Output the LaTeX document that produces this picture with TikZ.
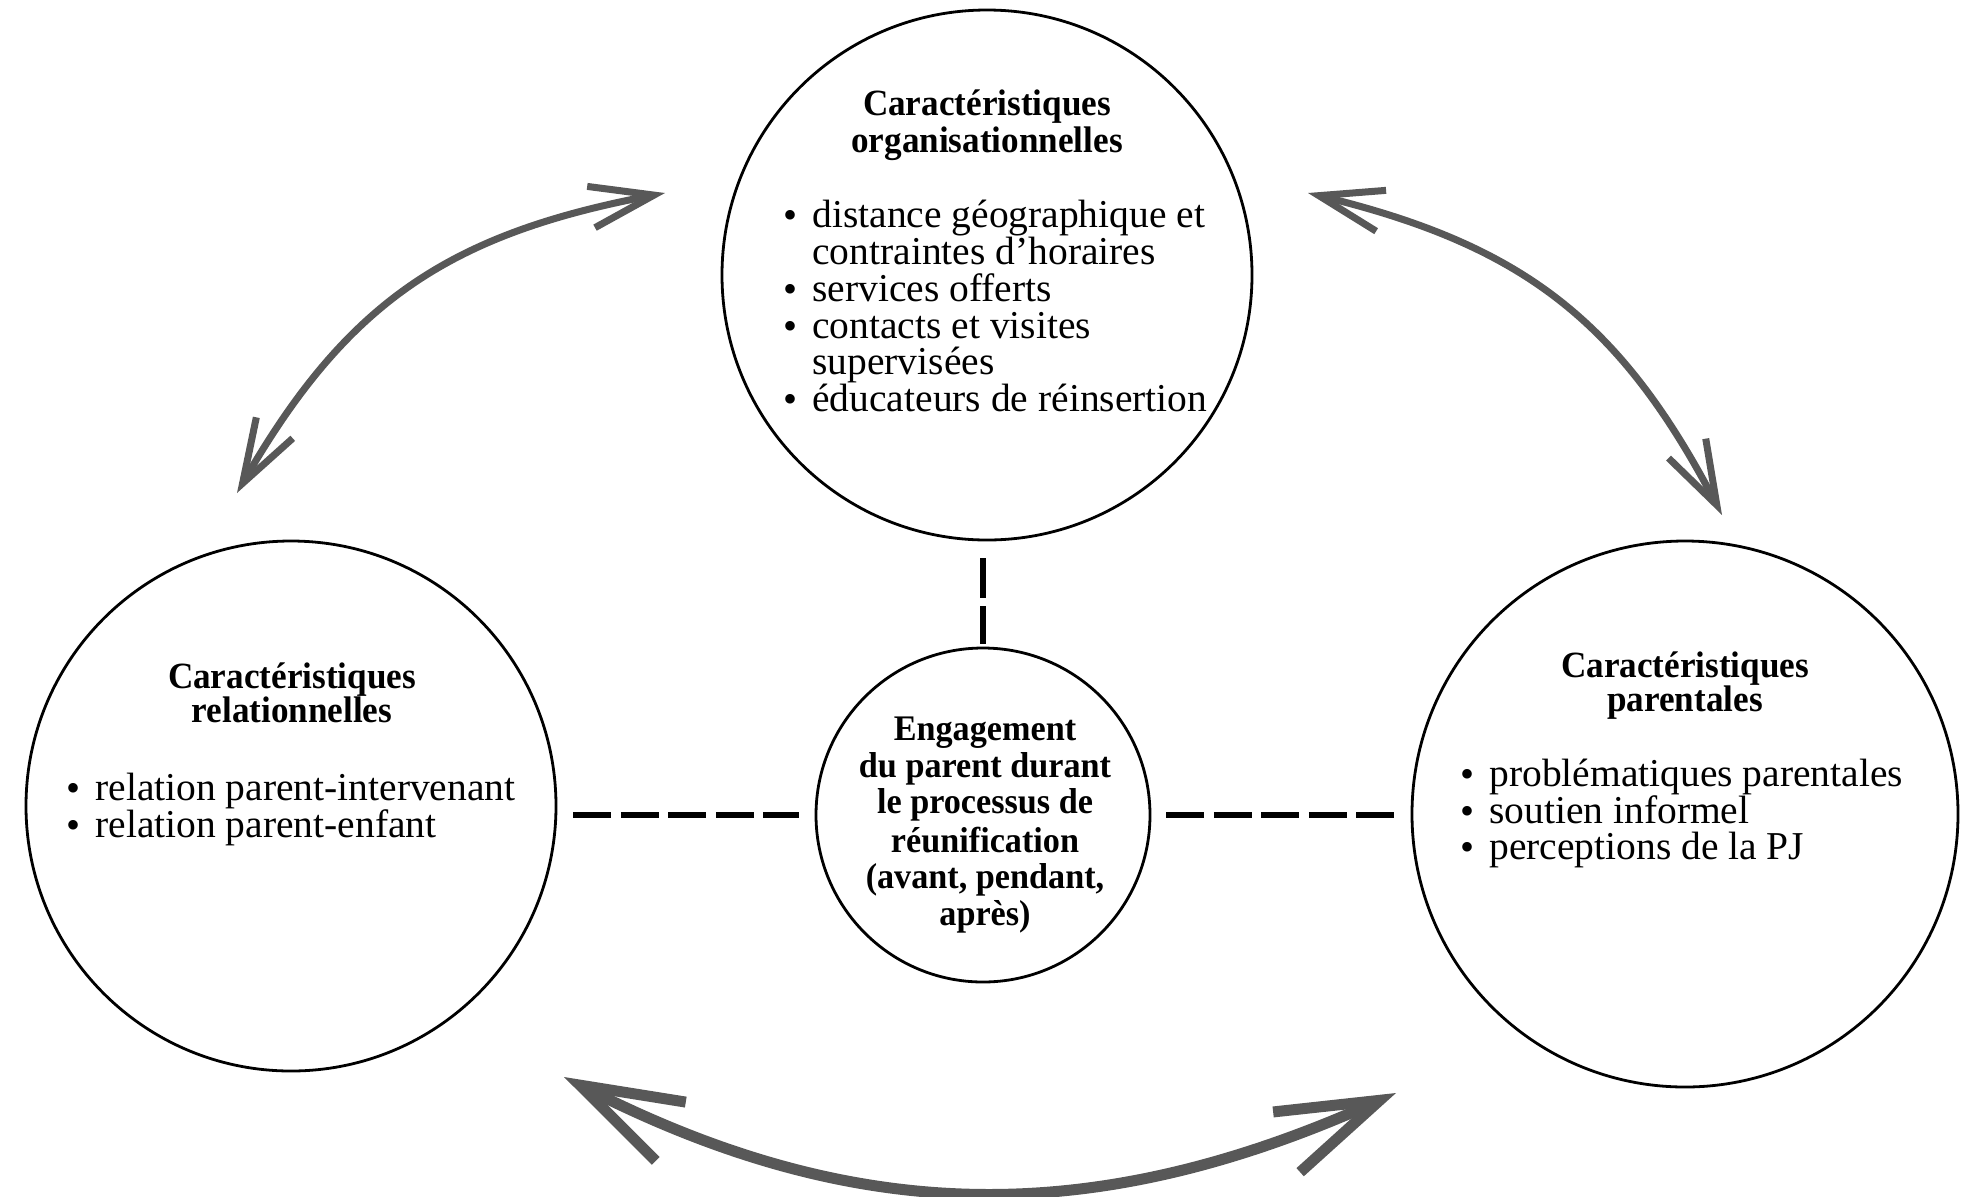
\documentclass[tikz,border=0pt]{standalone}
\usepackage{fontspec}
\setmainfont{Liberation Serif}
\newfontfamily\hdfont[FakeStretch=0.95]{Liberation Serif}
\usetikzlibrary{arrows.meta}
\definecolor{agray}{RGB}{88,88,88}
\newcommand\bulmark{\llap{\raisebox{-0.6pt}{\fontsize{20pt}{20pt}\selectfont •}\hspace{7.5pt}}}
\begin{document}
\begin{tikzpicture}[x=0.5pt,y=-0.5pt,
  circ/.style={circle, draw=black, line width=1.4pt, inner sep=0pt, minimum size=#1},
  hd/.style={anchor=base, inner sep=0pt, font=\hdfont\bfseries\fontsize{18.5pt}{18.5pt}\selectfont},
  ctr/.style={anchor=base, inner sep=0pt, font=\hdfont\bfseries\fontsize{18pt}{18pt}\selectfont},
  itm/.style={anchor=base west, inner sep=0pt, font=\fontsize{19.75pt}{19.75pt}\selectfont},
  hdash/.style={line width=3pt, dash pattern=on 19pt off 4.75pt},
  vdash/.style={line width=2.6pt, dash pattern=on 20pt off 4pt},
  smallarr/.style={draw=agray, line width=3.5pt,
    arrows={Straight Barb[sharp,length=32pt,width=21pt]-Straight Barb[sharp,length=32pt,width=21pt]}},
  bigarr/.style={draw=agray, line width=5.5pt,
    arrows={Straight Barb[sharp,length=51pt,width=33pt]-Straight Barb[sharp,length=51pt,width=33pt]}}
]
\useasboundingbox (0,0) rectangle (1971,1196);

% circles
\node[circ=265pt] (T) at (987,275) {};
\node[circ=265pt] (L) at (291,806) {};
\node[circ=273pt] (R) at (1685,814) {};
\node[circ=167pt] (C) at (983,815) {};

% top circle text
\node[hd] (th1) at (987,115) {Caractéristiques};
\node[hd] (th2) at (987,152) {organisationnelles};
\node[itm] (ti1) at (812,227) {\bulmark distance géographique et};
\node[itm] (ti2) at (812,264) {contraintes d’horaires};
\node[itm] (ti3) at (812,301) {\bulmark services offerts};
\node[itm] (ti4) at (812,338) {\bulmark contacts et visites};
\node[itm] (ti5) at (812,374) {supervisées};
\node[itm] (ti6) at (812,411) {\bulmark éducateurs de réinsertion};

% left circle text
\node[hd] (lh1) at (292,688) {Caractéristiques};
\node[hd] (lh2) at (292,722) {relationnelles};
\node[itm] (li1) at (95,800) {\bulmark relation parent-intervenant};
\node[itm] (li2) at (95,837) {\bulmark relation parent-enfant};

% right circle text
\node[hd] (rh1) at (1685,677) {Caractéristiques};
\node[hd] (rh2) at (1685,711) {parentales};
\node[itm] (ri1) at (1489,786) {\bulmark problématiques parentales};
\node[itm] (ri2) at (1489,823) {\bulmark soutien informel};
\node[itm] (ri3) at (1489,859) {\bulmark perceptions de la PJ};

% center circle text
\node[ctr] (c1) at (985,740) {Engagement};
\node[ctr] (c2) at (985,777) {du parent durant};
\node[ctr] (c3) at (985,813) {le processus de};
\node[ctr] (c4) at (985,852) {réunification};
\node[ctr] (c5) at (985,888) {(avant, pendant,};
\node[ctr] (c6) at (985,925) {après)};

% dashed connectors
\draw[hdash, shorten <=8pt, shorten >=8pt] (L.east |- C.west) -- (C.west);
\draw[hdash, shorten <=7.5pt, shorten >=8.5pt] (C.east) -- (C.east -| R.west);
\draw[vdash, shorten <=8.5pt, shorten >=1.5pt] (C.north |- T.south) -- (C.north);

% curved double arrows
\coordinate (a1) at (237,493);
\coordinate (b1) at (665,193);
\coordinate (a2) at (1308,193);
\coordinate (b2) at (1722,515);
\coordinate (a3) at (564,1077);
\coordinate (b3) at (1396,1093);
\draw[smallarr] (a1) .. controls (347,302) and (449,234) .. (b1);
\draw[smallarr] (a2) .. controls (1522,245) and (1620,320) .. (b2);
\draw[bigarr] (a3) .. controls (858,1227) and (1095,1228) .. (b3);
\end{tikzpicture}
\end{document}
